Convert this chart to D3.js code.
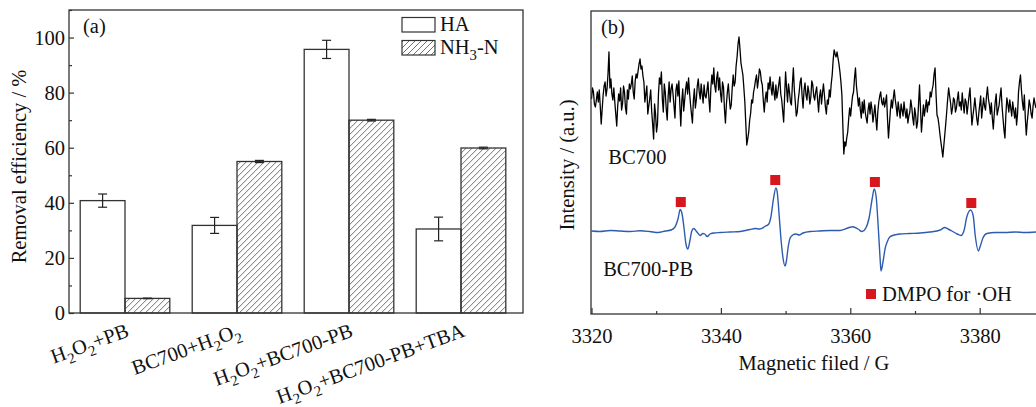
<!DOCTYPE html>
<html>
<head>
<meta charset="utf-8">
<script src="https://cdn.jsdelivr.net/npm/d3@7"></script>
<style>
body { margin: 0; background: #fff; }
svg { font-family: "Liberation Serif", "Times New Roman", serif; }
</style>
</head>
<body>
<svg id="chart" width="1036" height="407"></svg>
<script>
// (a) removal efficiency
const categories = ['H_2O_2+PB', 'BC700+H_2O_2', 'H_2O_2+BC700-PB', 'H_2O_2+BC700-PB+TBA']
const seriesNames = ['HA', 'NH_3-N']
const haValues = [40.8, 31.8, 95.7, 30.5]
const haErrors = [2.4, 2.9, 3.3, 4.3]
const nh3Values = [5.3, 55.0, 70.0, 59.9]
const nh3Errors = [0.1, 0.4, 0.3, 0.3]
const yTicksA = [0, 20, 40, 60, 80, 100]
const yMinorA = [10, 30, 50, 70, 90, 110]

// (b) EPR spectra
const fieldTicks = [3320, 3340, 3360, 3380]
const fieldMinor = [3330, 3350, 3370, 3390]
const bc700Start = 3320
const bc700Step = 0.15
const bc700Intensity = [
    215, 226, 222, 210, 207, 214, 222, 212, 224, 208, 190, 205, 219, 228, 232, 218, 225, 240, 262, 226,
    235, 220, 214, 226, 212, 200, 188, 208, 220, 213, 226, 204, 210, 228, 222, 206, 200, 224, 215, 230,
    225, 230, 238, 222, 215, 233, 240, 236, 243, 250, 255, 245, 248, 238, 232, 212, 220, 228, 200, 208,
    215, 224, 203, 190, 175, 210, 200, 182, 190, 220, 236, 230, 242, 215, 202, 230, 222, 205, 194, 218,
    232, 212, 225, 230, 220, 208, 196, 224, 230, 218, 233, 210, 188, 212, 225, 203, 214, 225, 232, 220,
    236, 222, 210, 200, 191, 214, 225, 206, 214, 228, 235, 222, 215, 230, 220, 211, 229, 218, 216, 224,
    232, 215, 202, 226, 239, 230, 246, 228, 222, 236, 242, 224, 236, 220, 212, 232, 227, 205, 191, 210,
    222, 230, 216, 205, 209, 226, 239, 228, 232, 248, 257, 270, 277, 265, 251, 245, 239, 226, 212, 190,
    169, 175, 182, 194, 201, 214, 211, 222, 227, 234, 239, 226, 234, 245, 242, 233, 229, 214, 202, 215,
    222, 212, 231, 225, 237, 226, 219, 232, 222, 214, 229, 216, 222, 230, 237, 220, 214, 203, 192, 218,
    242, 226, 212, 230, 222, 212, 209, 230, 246, 224, 212, 198, 202, 214, 222, 232, 236, 218, 206, 224,
    231, 219, 214, 228, 222, 210, 217, 233, 229, 218, 214, 222, 227, 214, 202, 218, 224, 210, 221, 230,
    219, 207, 200, 214, 210, 224, 217, 230, 239, 254, 264, 260, 257, 262, 256, 250, 242, 232, 219, 188,
    160, 172, 168, 176, 182, 195, 206, 198, 209, 218, 222, 236, 246, 228, 219, 208, 216, 204, 196, 212,
    201, 214, 202, 196, 191, 204, 211, 200, 212, 205, 192, 200, 209, 196, 184, 202, 212, 218, 222, 212,
    209, 216, 207, 212, 219, 195, 176, 190, 204, 214, 206, 216, 224, 214, 207, 198, 212, 204, 196, 210,
    204, 198, 212, 203, 196, 205, 191, 198, 202, 214, 207, 196, 189, 206, 199, 186, 192, 210, 229, 205,
    182, 196, 209, 198, 206, 214, 202, 212, 209, 222, 217, 224, 229, 240, 246, 220, 199, 196, 189, 180,
    172, 165, 157, 168, 179, 190, 202, 215, 226, 218, 211, 200, 206, 216, 214, 202, 206, 215, 222, 208,
    212, 204, 221, 210, 201, 215, 212, 200, 209, 218, 226, 206, 189, 198, 206, 216, 206, 195, 189, 200,
    209, 218, 196, 206, 216, 208, 204, 218, 227, 215, 209, 200, 211, 196, 185, 200, 212, 220, 199, 204,
    209, 218, 226, 208, 196, 184, 176, 200, 216, 210, 202, 214, 206, 198, 212, 204, 196, 206, 189, 200,
    222, 232, 239, 224, 212, 204, 219, 196, 179, 192, 202, 214, 209, 200, 196, 208, 216, 210, 206
]
const pbField = [
    3320.0, 3321.3, 3322.9, 3324.4, 3326.0, 3327.5, 3329.0, 3330.3, 3331.4, 3332.3,
    3332.9, 3333.4, 3333.7, 3334.0, 3334.3, 3334.6, 3334.9, 3335.2, 3335.5, 3335.8,
    3336.3, 3336.8, 3337.2, 3337.5, 3337.9, 3338.3, 3338.9, 3339.9, 3341.4, 3343.0,
    3344.5, 3345.3, 3346.0, 3346.8, 3347.4, 3347.7, 3348.1, 3348.5, 3348.7, 3349.0,
    3349.3, 3349.6, 3349.9, 3350.1, 3350.4, 3350.7, 3351.1, 3351.6, 3352.1, 3352.7,
    3353.8, 3355.3, 3356.9, 3358.4, 3359.6, 3360.4, 3361.2, 3361.8, 3362.4, 3362.9,
    3363.4, 3363.7, 3364.0, 3364.3, 3364.6, 3364.75, 3365.05, 3365.4, 3365.7, 3366.1,
    3366.8, 3367.7, 3369.2, 3370.8, 3372.3, 3373.9, 3374.6, 3375.1, 3375.7, 3376.5,
    3377.1, 3377.6, 3378.0, 3378.6, 3379.0, 3379.3, 3379.8, 3380.05, 3380.5, 3381.1,
    3382.4, 3383.9, 3385.5, 3387.0, 3388.7
]
const pbIntensity = [
    83, 82.5, 83.5, 83, 82.5, 83.2, 82.5, 81.5, 83, 84,
    87, 96, 104.5, 100, 86, 70, 65, 73, 83, 85.5,
    82, 78.5, 80.5, 80, 77.5, 80, 81, 81.5, 82, 82.5,
    84.5, 85.5, 85, 87.5, 90, 96, 114, 126, 122, 99,
    74, 56, 48, 52, 67, 76, 79, 80, 79, 81,
    82.5, 83, 83.5, 83.5, 86, 87.3, 85, 82.5, 86, 96,
    116, 125, 117, 89, 56, 43, 52, 66, 72, 77,
    79, 80, 80.5, 81, 82, 84, 86.5, 85, 83, 80,
    78.5, 84, 97, 104, 98, 79, 63, 67, 76, 80.5,
    81.5, 81.5, 82, 81.5, 82
]
const dmpoField = [3333.8, 3348.4, 3363.8, 3378.7]
const dmpoIntensity = [112, 134, 132, 111]

const svg = d3.select('#chart')
const fs = 20.5

// draws labels like H_2O_2 with subscripts
function richText(text, label, size) {
    const shift = size * 0.28
    let down = false
    label.split(/(_\d)/).filter(p => p).forEach(p => {
        if (p[0] === '_') {
            text.append('tspan').attr('font-size', size * 0.72).attr('dy', down ? 0 : shift).text(p.slice(1))
            down = true
        } else {
            text.append('tspan').attr('dy', down ? -shift : 0).text(p)
            down = false
        }
    })
}

// hatch for NH3-N bars
svg.append('defs')
    .append('pattern')
    .attr('id', 'hatch')
    .attr('patternUnits', 'userSpaceOnUse')
    .attr('width', 6)
    .attr('height', 6)
    .append('path')
    .attr('d', 'M-1,1 l2,-2 M0,6 l6,-6 M5,7 l2,-2')
    .attr('stroke', '#333')
    .attr('stroke-width', 0.7)

// ---------- panel (a) ----------
const boxA = {left: 69, right: 523, top: 10, bottom: 313}
const xA = d3.scaleBand().domain(categories).range([boxA.left, 517]).paddingInner(0.2).paddingOuter(0.1)
const xSub = d3.scaleBand().domain(seriesNames).range([0, xA.bandwidth()])
const yA = d3.scaleLinear().domain([0, 110]).range([boxA.bottom, boxA.top])

const gA = svg.append('g')

const rows = categories.map((c, i) => ({
    cat: c,
    items: [
        {name: seriesNames[0], v: haValues[i], e: haErrors[i]},
        {name: seriesNames[1], v: nh3Values[i], e: nh3Errors[i]}
    ]
}))

const groups = gA.selectAll('.grp')
    .data(rows)
    .enter()
    .append('g')
    .attr('transform', d => 'translate(' + xA(d.cat) + ',0)')

groups.selectAll('rect')
    .data(d => d.items)
    .enter()
    .append('rect')
    .attr('x', d => xSub(d.name))
    .attr('y', d => yA(d.v))
    .attr('width', xSub.bandwidth())
    .attr('height', d => yA(0) - yA(d.v))
    .attr('fill', (d, i) => i === 0 ? '#fff' : 'url(#hatch)')
    .attr('stroke', '#333')
    .attr('stroke-width', 1.3)

// error bars
const err = groups.selectAll('.err')
    .data(d => d.items)
    .enter()
    .append('g')
    .attr('stroke', '#222')
    .attr('stroke-width', 1.2)
    .attr('transform', d => 'translate(' + (xSub(d.name) + xSub.bandwidth() / 2) + ',0)')
err.append('line').attr('y1', d => yA(d.v - d.e)).attr('y2', d => yA(d.v + d.e))
err.append('line').attr('x1', -4.5).attr('x2', 4.5).attr('y1', d => yA(d.v + d.e)).attr('y2', d => yA(d.v + d.e))
err.append('line').attr('x1', -4.5).attr('x2', 4.5).attr('y1', d => yA(d.v - d.e)).attr('y2', d => yA(d.v - d.e))

// axes
const axA = gA.append('g')
    .attr('transform', 'translate(' + boxA.left + ',0)')
    .call(d3.axisLeft(yA).tickValues(yTicksA).tickSize(-5).tickPadding(4))
axA.select('.domain').remove()
axA.selectAll('text').attr('font-size', fs).attr('font-family', 'Liberation Serif').attr('fill', '#111')
axA.selectAll('line').attr('stroke', '#333').attr('stroke-width', 1.2)

const axAm = gA.append('g')
    .attr('transform', 'translate(' + boxA.left + ',0)')
    .call(d3.axisLeft(yA).tickValues(yMinorA).tickSize(-3).tickFormat(''))
axAm.select('.domain').remove()
axAm.selectAll('line').attr('stroke', '#333').attr('stroke-width', 1.2)

gA.append('rect')
    .attr('x', boxA.left)
    .attr('y', boxA.top)
    .attr('width', boxA.right - boxA.left)
    .attr('height', boxA.bottom - boxA.top)
    .attr('fill', 'none')
    .attr('stroke', '#333')
    .attr('stroke-width', 1.3)

// rotated category labels
categories.forEach(c => {
    const t = gA.append('text')
        .attr('transform', 'translate(' + (xA(c) + xA.bandwidth() / 2 + 5) + ',336) rotate(-20)')
        .attr('text-anchor', 'end')
        .attr('font-size', fs)
        .attr('fill', '#111')
    richText(t, c, fs)
})

gA.append('text')
    .attr('transform', 'translate(26,' + ((boxA.top + boxA.bottom) / 2 + 5) + ') rotate(-90)')
    .attr('text-anchor', 'middle')
    .attr('font-size', fs)
    .attr('fill', '#111')
    .text('Removal efficiency / %')

gA.append('text').attr('x', 83).attr('y', 33).attr('font-size', fs).attr('fill', '#111').text('(a)')

// legend
seriesNames.forEach((s, i) => {
    const ly = 17.5 + i * 23
    gA.append('rect')
        .attr('x', 402).attr('y', ly).attr('width', 33).attr('height', 14.5)
        .attr('fill', i === 0 ? '#fff' : 'url(#hatch)')
        .attr('stroke', '#333').attr('stroke-width', 1.2)
    const t = gA.append('text').attr('x', 440).attr('y', ly + 13.5).attr('font-size', fs).attr('fill', '#111')
    richText(t, s, fs)
})

// ---------- panel (b) ----------
const boxB = {left: 591, top: 11, bottom: 314}
const xB = d3.scaleLinear().domain([3320, 3400]).range([591.5, 591.5 + 80 * 6.47])
const yB = d3.scaleLinear().domain([0, 303]).range([314, 11])
const gB = svg.append('g')

const bc700Points = bc700Intensity.map((v, i) => [bc700Start + i * bc700Step, v])
const pbPoints = pbField.map((f, i) => [f, pbIntensity[i]])

const lineB = d3.line().x(d => xB(d[0])).y(d => yB(d[1]))

gB.append('path')
    .datum(bc700Points)
    .attr('fill', 'none')
    .attr('stroke', '#000')
    .attr('stroke-width', 1.3)
    .attr('stroke-linejoin', 'round')
    .attr('d', lineB)

gB.append('path')
    .datum(pbPoints)
    .attr('fill', 'none')
    .attr('stroke', '#2d5caf')
    .attr('stroke-width', 1.4)
    .attr('d', lineB.curve(d3.curveMonotoneX))

gB.selectAll('.dmpo')
    .data(dmpoField)
    .enter()
    .append('rect')
    .attr('x', d => xB(d) - 5)
    .attr('y', (d, i) => yB(dmpoIntensity[i]) - 5)
    .attr('width', 10)
    .attr('height', 10)
    .attr('fill', '#d7161e')

const axB = gB.append('g')
    .attr('transform', 'translate(0,' + boxB.bottom + ')')
    .call(d3.axisBottom(xB).tickValues(fieldTicks).tickSize(-6).tickPadding(14).tickFormat(d3.format('d')))
axB.select('.domain').remove()
axB.selectAll('text').attr('font-size', fs).attr('font-family', 'Liberation Serif').attr('fill', '#111')
axB.selectAll('line').attr('stroke', '#333').attr('stroke-width', 1.2)

const axBm = gB.append('g')
    .attr('transform', 'translate(0,' + boxB.bottom + ')')
    .call(d3.axisBottom(xB).tickValues(fieldMinor).tickSize(-3).tickFormat(''))
axBm.select('.domain').remove()
axBm.selectAll('line').attr('stroke', '#333').attr('stroke-width', 1.2)

gB.append('rect')
    .attr('x', boxB.left)
    .attr('y', boxB.top)
    .attr('width', xB(3400) - boxB.left)
    .attr('height', boxB.bottom - boxB.top)
    .attr('fill', 'none')
    .attr('stroke', '#333')
    .attr('stroke-width', 1.3)

gB.append('text').attr('x', 601).attr('y', 34).attr('font-size', fs).attr('fill', '#111').text('(b)')
gB.append('text').attr('x', xB(3322.6)).attr('y', 164).attr('font-size', fs).attr('fill', '#111').text('BC700')
gB.append('text').attr('x', xB(3321.8)).attr('y', 276).attr('font-size', fs).attr('fill', '#111').text('BC700-PB')

gB.append('rect').attr('x', 866).attr('y', 289).attr('width', 10).attr('height', 10).attr('fill', '#d7161e')
gB.append('text').attr('x', 882).attr('y', 301).attr('font-size', fs).attr('fill', '#111').text('DMPO for \u00b7OH')

gB.append('text')
    .attr('transform', 'translate(574,165) rotate(-90)')
    .attr('text-anchor', 'middle')
    .attr('font-size', fs)
    .attr('fill', '#111')
    .text('Intensity / (a.u.)')

gB.append('text')
    .attr('x', 814)
    .attr('y', 370)
    .attr('text-anchor', 'middle')
    .attr('font-size', fs)
    .attr('fill', '#111')
    .text('Magnetic filed / G')
</script>
</body>
</html>
